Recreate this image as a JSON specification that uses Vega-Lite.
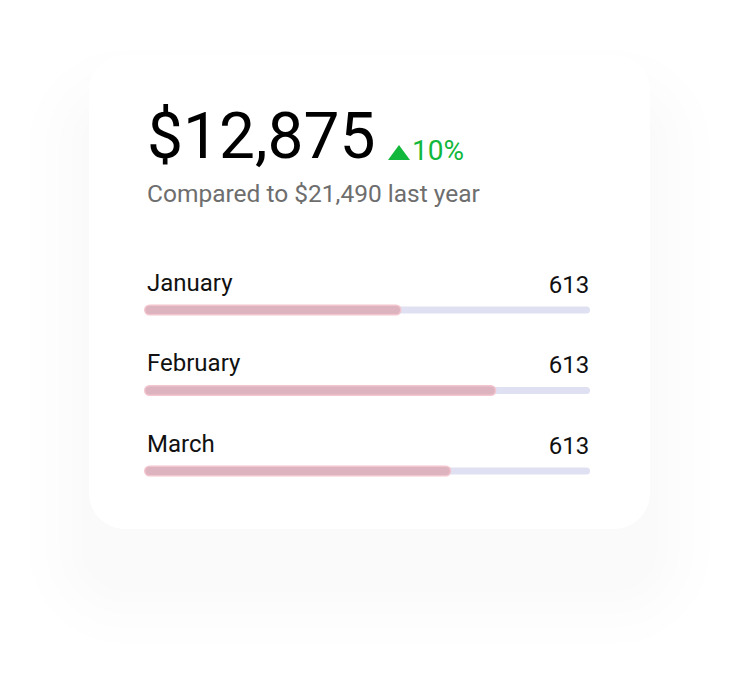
{
  "$schema": "https://vega.github.io/schema/vega-lite/v6.json",
  "width": 734,
  "height": 674,
  "autosize": {"type": "fit", "contains": "padding"},
  "padding": 0,
  "background": "#ffffff",
  "config": {"view": {"stroke": null}, "axis": {"disable": true}},
  "datasets": {
    "months": [
      {"month": "January", "row": 1, "progress": 56.4, "value": 613},
      {"month": "February", "row": 2, "progress": 78.1, "value": 613},
      {"month": "March", "row": 3, "progress": 67.8, "value": 613}
    ]
  },
  "data": {"name": "months"},
  "layer": [
    {
      "data": {"values": [{}]},
      "mark": {"type": "rect", "fill": "#000000", "opacity": 0.005, "cornerRadius": 96},
      "encoding": {
        "x": {"datum": -27.57, "type": "quantitative"},
        "x2": {"datum": 128.26},
        "y": {"datum": -2.23, "type": "quantitative"},
        "y2": {"datum": 5.149}
      }
    },
    {
      "data": {"values": [{}]},
      "mark": {"type": "rect", "fill": "#000000", "opacity": 0.005, "cornerRadius": 80},
      "encoding": {
        "x": {"datum": -23.91, "type": "quantitative"},
        "x2": {"datum": 124.6},
        "y": {"datum": -2.031, "type": "quantitative"},
        "y2": {"datum": 4.95}
      }
    },
    {
      "data": {"values": [{}]},
      "mark": {"type": "rect", "fill": "#000000", "opacity": 0.005, "cornerRadius": 66},
      "encoding": {
        "x": {"datum": -20.71, "type": "quantitative"},
        "x2": {"datum": 121.4},
        "y": {"datum": -1.857, "type": "quantitative"},
        "y2": {"datum": 4.776}
      }
    },
    {
      "data": {"values": [{}]},
      "mark": {"type": "rect", "fill": "#000000", "opacity": 0.005, "cornerRadius": 54},
      "encoding": {
        "x": {"datum": -17.96, "type": "quantitative"},
        "x2": {"datum": 118.65},
        "y": {"datum": -1.708, "type": "quantitative"},
        "y2": {"datum": 4.627}
      }
    },
    {
      "data": {"values": [{}]},
      "mark": {"type": "rect", "fill": "#000000", "opacity": 0.005, "cornerRadius": 44},
      "encoding": {
        "x": {"datum": -15.68, "type": "quantitative"},
        "x2": {"datum": 116.36},
        "y": {"datum": -1.584, "type": "quantitative"},
        "y2": {"datum": 4.503}
      }
    },
    {
      "data": {"values": [{}]},
      "mark": {"type": "rect", "fill": "#ffffff", "cornerRadius": 36},
      "encoding": {
        "x": {"datum": -13.84, "type": "quantitative"},
        "x2": {"datum": 114.53},
        "y": {"datum": -2.168, "type": "quantitative"},
        "y2": {"datum": 3.72}
      }
    },
    {
      "data": {"values": [{"label": "$12,875"}]},
      "mark": {"type": "text", "font": "Roboto", "fontSize": 64, "color": "#000000", "align": "left", "baseline": "alphabetic"},
      "encoding": {
        "x": {"datum": -0.57, "type": "quantitative"},
        "y": {"datum": -0.888, "type": "quantitative"},
        "text": {"field": "label"}
      }
    },
    {
      "data": {"values": [{}]},
      "mark": {"type": "point", "shape": "M-1,0.68L0,-0.68L1,0.68Z", "filled": true, "color": "#12b83c", "opacity": 1, "size": 484},
      "encoding": {
        "x": {"datum": 57.09, "type": "quantitative"},
        "y": {"datum": -0.957, "type": "quantitative"}
      }
    },
    {
      "data": {"values": [{"label": "10%"}]},
      "mark": {"type": "text", "font": "Roboto", "fontSize": 28, "color": "#12b83c", "align": "left", "baseline": "alphabetic"},
      "encoding": {
        "x": {"datum": 60.07, "type": "quantitative"},
        "y": {"datum": -0.863, "type": "quantitative"},
        "text": {"field": "label"}
      }
    },
    {
      "data": {"values": [{"label": "Compared to $21,490 last year"}]},
      "mark": {"type": "text", "font": "Roboto", "fontSize": 24.5, "color": "#6e6e6e", "align": "left", "baseline": "alphabetic"},
      "encoding": {
        "x": {"datum": -0.57, "type": "quantitative"},
        "y": {"datum": -0.342, "type": "quantitative"},
        "text": {"field": "label"}
      }
    },
    {
      "mark": {"type": "rule", "color": "#dfe0f2", "strokeWidth": 7, "strokeCap": "round"},
      "encoding": {
        "x": {"datum": 0, "type": "quantitative"},
        "x2": {"datum": 100},
        "y": {"field": "row", "type": "quantitative"}
      }
    },
    {
      "mark": {"type": "rule", "color": "#f3c5ce", "strokeWidth": 11, "strokeCap": "round"},
      "encoding": {
        "x": {"field": "progress", "type": "quantitative", "scale": {"domain": [-34.21, 133.75], "nice": false, "zero": false}},
        "x2": {"datum": 0},
        "y": {"field": "row", "type": "quantitative", "scale": {"domain": [-2.851, 5.522], "nice": false, "zero": false, "reverse": true}}
      }
    },
    {
      "mark": {"type": "rule", "color": "#ddb3c0", "strokeWidth": 8, "strokeCap": "round"},
      "encoding": {
        "x": {"field": "progress", "type": "quantitative"},
        "x2": {"datum": 0},
        "y": {"field": "row", "type": "quantitative"}
      }
    },
    {
      "mark": {"type": "text", "font": "Roboto", "fontSize": 24, "color": "#111111", "align": "left", "baseline": "alphabetic", "dy": -19},
      "encoding": {
        "x": {"datum": -0.57, "type": "quantitative"},
        "y": {"field": "row", "type": "quantitative"},
        "text": {"field": "month"}
      }
    },
    {
      "mark": {"type": "text", "font": "Roboto", "fontSize": 24, "color": "#111111", "align": "right", "baseline": "alphabetic", "dy": -17},
      "encoding": {
        "x": {"datum": 100.6, "type": "quantitative"},
        "y": {"field": "row", "type": "quantitative"},
        "text": {"field": "value", "type": "quantitative", "format": "d"}
      }
    }
  ]
}
